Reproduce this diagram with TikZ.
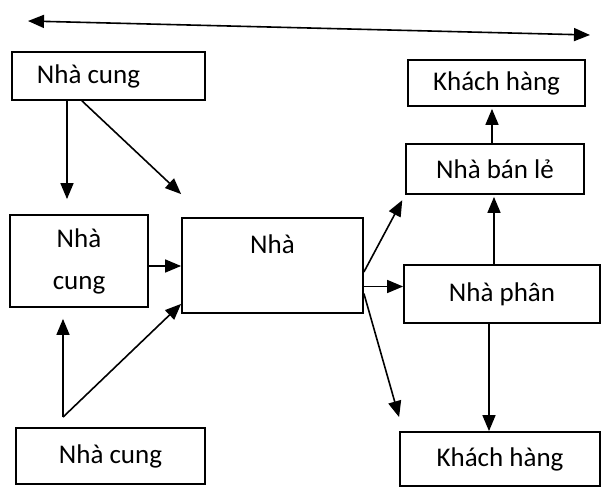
\documentclass[tikz,border=0pt]{standalone}
\usepackage{fontspec}
\setmainfont{Carlito}
\usetikzlibrary{arrows.meta}
\tikzset{
  chain/.style={x=1pt, y=-1pt, >={Triangle[length=16pt, width=13pt]}},
  box/.style={draw, line width=1.8pt, inner sep=0pt, align=center, font=\fontsize{27}{42}\selectfont},
  flow/.style={->, line width=1.6pt}
}

\begin{document}
\begin{tikzpicture}[chain]
\useasboundingbox (0,0) rectangle (606,494);
% suppliers and manufacturer
\node[box, minimum width=193pt, minimum height=48pt] (sup1) at (108.5,76) {Nhà cung\kern40pt};
\node[box, minimum width=138pt, minimum height=92pt] (sup2) at (79,261) {Nhà\\cung};
\node[box, minimum width=189pt, minimum height=56pt] (sup3) at (110.5,456) {Nhà cung};
\node[box, minimum width=181pt, minimum height=95pt] (maker) at (272.5,265.5) {Nhà\\~};
% distribution side
\node[box, minimum width=177pt, minimum height=46pt] (cust1) at (496.5,83) {Khách hàng};
\node[box, minimum width=178pt, minimum height=50pt] (retail) at (495,169) {Nhà bán lẻ};
\node[box, minimum width=196pt, minimum height=58pt] (dist) at (502,294) {Nhà phân};
\node[box, minimum width=200pt, minimum height=54pt] (cust2) at (500,459) {Khách hàng};

\coordinate (ll) at (28,21);
\coordinate (rr) at (590,35);
\draw[<->, line width=1.6pt] (ll) -- (rr);

\draw[flow, shorten >=15pt] ([xshift=-41.5pt]sup1.south) -- ([xshift=-12pt]sup2.north);
\draw[flow] ([xshift=-26.5pt]sup1.south) -- ([yshift=23pt]maker.north west);
\coordinate (apex) at ([xshift=-47.5pt, yshift=10pt]sup3.north);
\draw[flow, shorten >=11pt] (apex) -- (apex |- sup2.south);
\draw[flow] (apex) -- ([yshift=10pt]maker.south west);
\draw[flow] ([yshift=-5pt]sup2.east) -- ([yshift=-5pt]sup2.east -| maker.west);

\draw[flow, shorten >=6pt] ([yshift=-6.5pt]maker.east) -- (retail.south west);
\draw[flow] ([yshift=-21pt]maker.east) -- ([yshift=-21pt]maker.east -| dist.west);
\draw[flow] ([yshift=-28pt]maker.east) -- ([yshift=14pt]cust2.north west);
\draw[flow, shorten >=2pt] ([xshift=-8pt]dist.north) -- ([xshift=-8pt]dist.north |- retail.south);
\draw[flow, shorten >=2pt] ([xshift=-3pt]retail.north) -- ([xshift=-3pt]retail.north |- cust1.south);
\draw[flow] ([xshift=-13pt]dist.south) -- ([xshift=-13pt]dist.south |- cust2.north);
\end{tikzpicture}
\end{document}
